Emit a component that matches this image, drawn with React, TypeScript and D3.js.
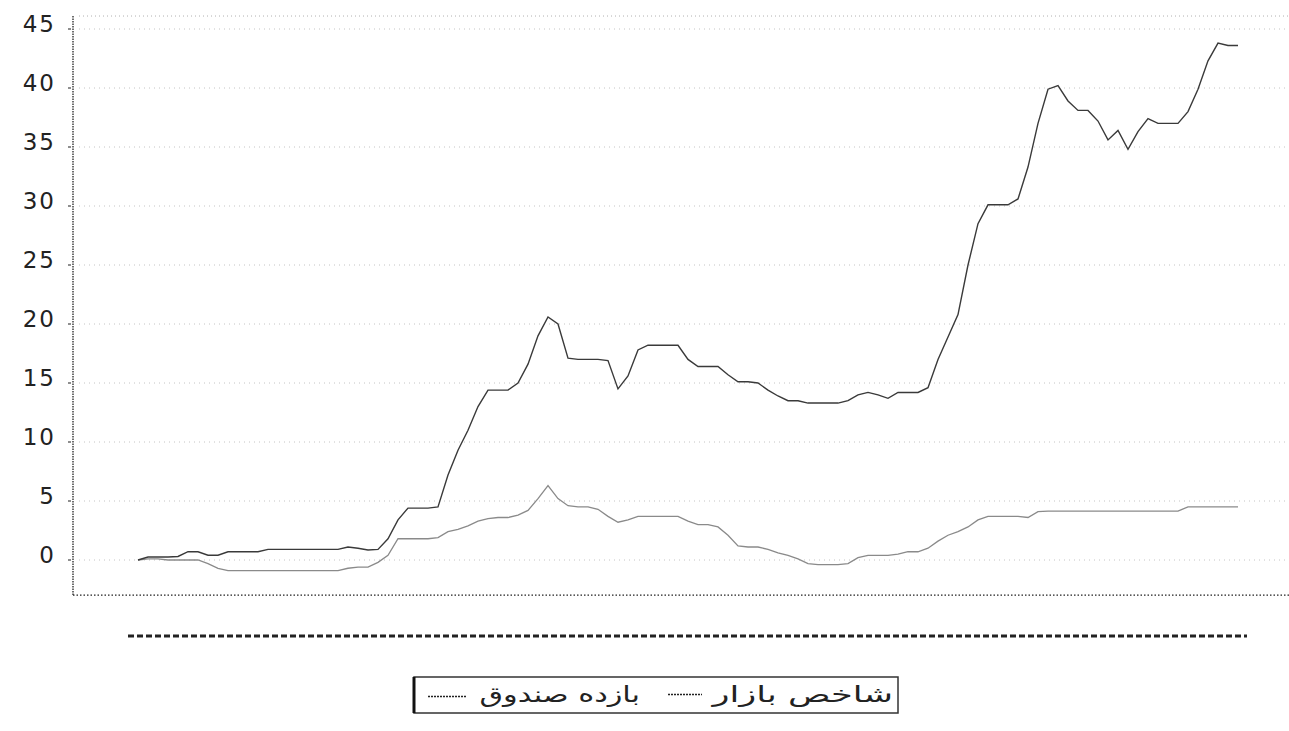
import React from 'react';
import * as d3 from 'd3';

// بازده صندوق (upper, darker line)
const fundReturn = [
  0.0, 0.25, 0.25, 0.25, 0.3, 0.7, 0.7, 0.4, 0.4, 0.7,
  0.7, 0.7, 0.7, 0.9, 0.9, 0.9, 0.9, 0.9, 0.9, 0.9,
  0.9, 1.1, 1.0, 0.85, 0.9, 1.8, 3.4, 4.4, 4.4, 4.4,
  4.5, 7.2, 9.3, 11.0, 13.0, 14.4, 14.4, 14.4, 15.0, 16.6,
  19.0, 20.6, 20.0, 17.1, 17.0, 17.0, 17.0, 16.9, 14.5, 15.6,
  17.8, 18.2, 18.2, 18.2, 18.2, 17.0, 16.4, 16.4, 16.4, 15.7,
  15.1, 15.1, 15.0, 14.4, 13.9, 13.5, 13.5, 13.3, 13.3, 13.3,
  13.3, 13.5, 14.0, 14.2, 14.0, 13.7, 14.2, 14.2, 14.2, 14.6,
  17.0, 18.9, 20.8, 25.0, 28.5, 30.1, 30.1, 30.1, 30.6, 33.3,
  37.0, 39.9, 40.2, 38.9, 38.1, 38.1, 37.2, 35.6, 36.4, 34.8,
  36.3, 37.4, 37.0, 37.0, 37.0, 38.0, 39.9, 42.3, 43.8, 43.6,
  43.6,
];

// شاخص بازار (lower, lighter line)
const marketIndex = [
  0.0, 0.1, 0.1, 0.0, 0.0, 0.0, 0.0, -0.3, -0.7, -0.9,
  -0.9, -0.9, -0.9, -0.9, -0.9, -0.9, -0.9, -0.9, -0.9, -0.9,
  -0.9, -0.7, -0.6, -0.6, -0.2, 0.4, 1.8, 1.8, 1.8, 1.8,
  1.9, 2.4, 2.6, 2.9, 3.3, 3.5, 3.6, 3.6, 3.8, 4.2,
  5.2, 6.3, 5.2, 4.6, 4.5, 4.5, 4.3, 3.7, 3.2, 3.4,
  3.7, 3.7, 3.7, 3.7, 3.7, 3.3, 3.0, 3.0, 2.8, 2.1,
  1.2, 1.1, 1.1, 0.9, 0.6, 0.4, 0.1, -0.3, -0.4, -0.4,
  -0.4, -0.3, 0.2, 0.4, 0.4, 0.4, 0.5, 0.7, 0.7, 1.0,
  1.6, 2.1, 2.4, 2.8, 3.4, 3.7, 3.7, 3.7, 3.7, 3.6,
  4.1, 4.15, 4.15, 4.15, 4.15, 4.15, 4.15, 4.15, 4.15, 4.15,
  4.15, 4.15, 4.15, 4.15, 4.15, 4.5, 4.5, 4.5, 4.5, 4.5,
  4.5,
];

const yTicks = [0, 5, 10, 15, 20, 25, 30, 35, 40, 45];
const legendLabels = ['بازده صندوق', 'شاخص بازار'];

const W = 1289;
const H = 731;

export default function App() {
  const x = d3.scaleLinear().domain([0, fundReturn.length - 1]).range([138, 1238]);
  const y = d3.scaleLinear().domain([0, 45]).range([560, 29]);
  const left = 73;
  const bottom = y(-2.97);
  const top = y(46.1);

  const line = d3
    .line<number>()
    .x((_, i) => x(i))
    .y((d) => y(d));

  return (
    <svg
      width={W}
      height={H}
      style={{ position: 'absolute', left: 0, top: 0, background: '#fff' }}
    >
      {/* gridlines */}
      {yTicks.map((t) => (
        <line
          key={'g' + t}
          x1={left + 6}
          x2={W}
          y1={y(t)}
          y2={y(t)}
          stroke="#c4c4c4"
          strokeWidth={1}
          strokeDasharray="1,4"
        />
      ))}
      <line x1={left + 6} x2={W} y1={top} y2={top} stroke="#b0b0b0" strokeDasharray="1,3" />

      {/* axes */}
      <line x1={left} x2={left} y1={top} y2={bottom} stroke="#222" strokeWidth={1.3} strokeDasharray="1.5,1" />
      <line x1={left} x2={W} y1={bottom} y2={bottom} stroke="#222" strokeWidth={1.3} strokeDasharray="1.5,2" />
      {yTicks.map((t) => (
        <g key={'t' + t}>
          <line x1={left - 5} x2={left - 2} y1={y(t)} y2={y(t)} stroke="#444" strokeWidth={1.2} />
          <text
            x={56}
            y={y(t) - 4}
            textAnchor="end"
            dominantBaseline="middle"
            fontFamily="DejaVu Sans"
            fontSize={23}
            letterSpacing={2}
            fill="#222"
          >
            {t}
          </text>
        </g>
      ))}

      {/* series */}
      <path d={line(marketIndex) ?? ''} fill="none" stroke="#8a8a8a" strokeWidth={1.3} />
      <path d={line(fundReturn) ?? ''} fill="none" stroke="#3a3a3a" strokeWidth={1.4} />

      {/* squeezed date labels */}
      <line x1={128} x2={1247} y1={636} y2={636} stroke="#222" strokeWidth={3} strokeDasharray="6,3" />

      {/* legend */}
      <rect x={414} y={677} width={484} height={36} fill="none" stroke="#333" strokeWidth={1.5} />
      <line x1={414} x2={414} y1={677} y2={713} stroke="#111" strokeWidth={3} />
      <line x1={428} x2={466} y1={696.5} y2={696.5} stroke="#222" strokeWidth={1.5} strokeDasharray="2,1" />
      <text
        transform="translate(640,696) scale(1.38,1)"
        textAnchor="end"
        dominantBaseline="middle"
        fontFamily="DejaVu Sans"
        fontSize={22}
        fill="#222"
      >
        {legendLabels[0]}
      </text>
      <line x1={668} x2={702} y1={694.5} y2={694.5} stroke="#222" strokeWidth={1.5} strokeDasharray="2,1" />
      <text
        transform="translate(893,696) scale(1.6,1)"
        textAnchor="end"
        dominantBaseline="middle"
        fontFamily="DejaVu Sans"
        fontSize={22}
        fill="#222"
      >
        {legendLabels[1]}
      </text>
    </svg>
  );
}
